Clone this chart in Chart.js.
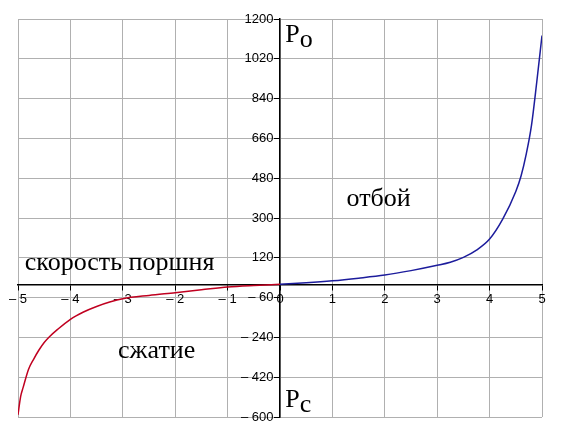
<!DOCTYPE html>
<html>
<head>
<meta charset="utf-8">
<script src="https://cdn.jsdelivr.net/npm/chart.js@4.4.1/dist/chart.umd.min.js"></script>
<style>
  body { margin: 0; background: #fff; }
  #wrap { width: 571px; height: 438px; position: relative; }
</style>
</head>
<body>
<div id="wrap"><canvas id="chart"></canvas></div>
<script>
// piston speed (x) vs damper force (y)
const compressionSpeed = [-5, -4.95, -4.9, -4.8, -4.7, -4.6, -4.5, -4.4, -4.25, -4, -3.75, -3.5, -3.25, -3, -2.5, -2, -1.5, -1, -0.5, 0];
const compressionForce = [-590, -508, -465, -385, -338, -297, -263, -237, -205, -158, -125, -100, -80, -65, -50, -38, -25, -12, -5, 0];
const reboundSpeed = [0, 0.5, 1, 1.5, 2, 2.5, 3, 3.25, 3.5, 3.75, 4, 4.25, 4.5, 4.6, 4.7, 4.8, 4.9, 5];
const reboundForce = [0, 7, 16, 28, 42, 62, 86, 100, 122, 155, 205, 295, 420, 490, 590, 720, 915, 1125];

const xTicks = [-5, -4, -3, -2, -1, 0, 1, 2, 3, 4, 5];
const yTicks = [-600, -420, -240, -60, 120, 300, 480, 660, 840, 1020, 1200];

// captions, anchored in data units
const notes = [
    { text: 'скорость поршня', x: -4.87, y: 65 },
    { text: 'отбой', x: 1.27, y: 354 },
    { text: 'сжатие', x: -3.09, y: -333 },
    { text: 'P', sub: 'o', x: 0.1, y: 1096 },
    { text: 'P', sub: 'c', x: 0.1, y: -555 }
];

function toPoints(xs, ys) {
    return xs.map((x, i) => ({ x: x, y: ys[i] }));
}

function tickLabel(v) {
    return v < 0 ? '\u2013 ' + (-v) : String(v);
}

const notesPlugin = {
    id: 'notes',
    afterDraw(chart) {
        const ctx = chart.ctx;
        const sx = chart.scales.x;
        const sy = chart.scales.y;
        ctx.save();
        ctx.font = '26px "Liberation Serif"';
        ctx.fillStyle = '#000';
        ctx.textBaseline = 'alphabetic';
        ctx.textAlign = 'left';
        notes.forEach(n => {
            const px = sx.getPixelForValue(n.x);
            const py = sy.getPixelForValue(n.y);
            ctx.fillText(n.text, px, py);
            if (n.sub) {
                const w = ctx.measureText(n.text).width;
                ctx.fillText(n.sub, px + w, py + 5);
            }
        });
        ctx.restore();
    }
};

const gridColor = '#b0b0b0';
const tickFont = { family: '"Liberation Sans"', size: 13 };

new Chart(document.getElementById('chart'), {
    type: 'scatter',
    data: {
        datasets: [{
            label: 'сжатие',
            data: toPoints(compressionSpeed, compressionForce),
            borderColor: '#c00020',
            borderWidth: 1.5,
            showLine: true,
            pointRadius: 0,
            cubicInterpolationMode: 'monotone'
        }, {
            label: 'отбой',
            data: toPoints(reboundSpeed, reboundForce),
            borderColor: '#1c1c9c',
            borderWidth: 1.5,
            showLine: true,
            pointRadius: 0,
            cubicInterpolationMode: 'monotone'
        }]
    },
    options: {
        responsive: true,
        maintainAspectRatio: false,
        animation: false,
        layout: { padding: { left: 18, right: 29, top: 19, bottom: 21 } },
        plugins: {
            legend: { display: false },
            tooltip: { enabled: false }
        },
        scales: {
            x: {
                type: 'linear',
                min: -5,
                max: 5,
                position: { y: 0 },
                afterBuildTicks: scale => { scale.ticks = xTicks.map(v => ({ value: v })); },
                grid: { color: gridColor, lineWidth: 1, tickColor: '#000', tickLength: 5 },
                border: { color: '#000', width: 1.5 },
                ticks: { color: '#000', font: tickFont, padding: 2, maxRotation: 0, autoSkip: false, callback: v => tickLabel(v) }
            },
            y: {
                type: 'linear',
                min: -600,
                max: 1200,
                position: { x: 0 },
                afterBuildTicks: scale => { scale.ticks = yTicks.map(v => ({ value: v })); },
                grid: { color: gridColor, lineWidth: 1, tickColor: '#000', tickLength: 5 },
                border: { color: '#000', width: 1.5 },
                // en space keeps the label clear of the tick mark
                ticks: { color: '#000', font: tickFont, padding: 2, autoSkip: false, callback: v => tickLabel(v) + '\u2002' }
            }
        }
    },
    plugins: [notesPlugin]
});
</script>
</body>
</html>
